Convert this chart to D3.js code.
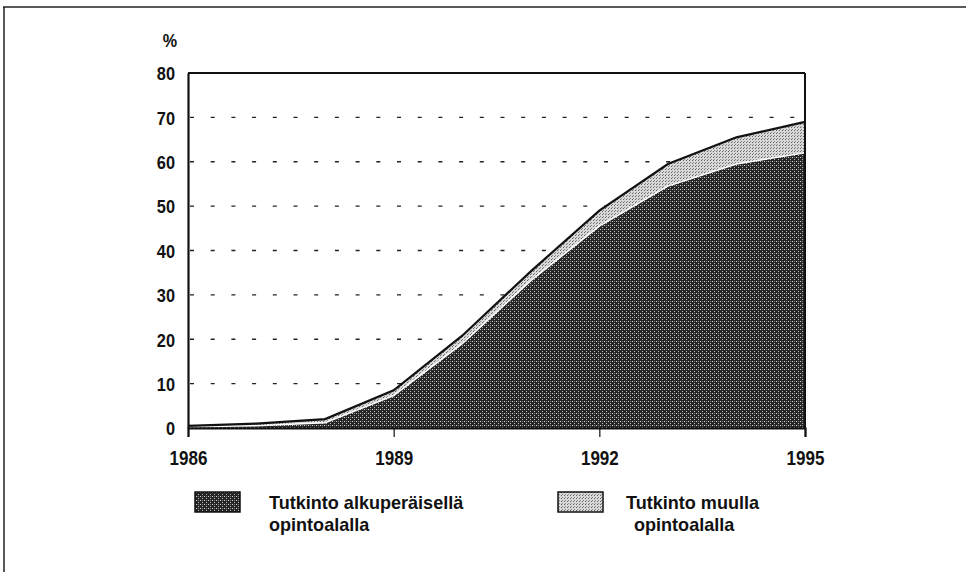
<!DOCTYPE html>
<html>
<head>
<meta charset="utf-8">
<script src="https://cdn.jsdelivr.net/npm/d3@7"></script>
<style>
  body { margin: 0; background: #fff; }
  svg text { font-family: "Liberation Sans", Arial, sans-serif; font-weight: bold; fill: #111; }
</style>
</head>
<body>
<div id="chart"></div>
<script>
// data (percent)
const years = [1986, 1987, 1988, 1989, 1990, 1991, 1992, 1993, 1994, 1995];
const original = [0.3, 0.5, 1.2, 7.3, 19.0, 33.2, 45.5, 54.5, 59.5, 62.0];
const total = [0.5, 1.0, 2.0, 8.5, 20.8, 35.3, 49.0, 59.5, 65.5, 69.0];
const yTicks = [0, 10, 20, 30, 40, 50, 60, 70, 80];
const xTicks = [1986, 1989, 1992, 1995];
const legendLabels = [["Tutkinto alkuperäisellä", "opintoalalla"], ["Tutkinto muulla", "opintoalalla"]];

const W = 966, H = 572;
const margin = {top: 73, right: 161, bottom: 144, left: 188};
const w = W - margin.left - margin.right;
const h = H - margin.top - margin.bottom;

// squeeze text horizontally to mimic the condensed typeface
function condense(sel, k) {
    sel.each(function () {
        let len = this.getComputedTextLength();
        d3.select(this).attr("textLength", len * k).attr("lengthAdjust", "spacingAndGlyphs");
    });
}

const svg = d3.select("#chart").append("svg")
    .attr("width", W)
    .attr("height", H);

// halftone-ish patterns
const defs = svg.append("defs");
let pd = defs.append("pattern").attr("id", "darkPat")
    .attr("patternUnits", "userSpaceOnUse").attr("width", 4).attr("height", 4);
pd.append("rect").attr("width", 4).attr("height", 4).attr("fill", "#262626");
pd.append("rect").attr("x", 0).attr("y", 0).attr("width", 1).attr("height", 1).attr("fill", "#d0d0d0");
pd.append("rect").attr("x", 2).attr("y", 2).attr("width", 1).attr("height", 1).attr("fill", "#b4b4b4");
pd.append("rect").attr("x", 2).attr("y", 0).attr("width", 1).attr("height", 1).attr("fill", "#7a7a7a");

let pl = defs.append("pattern").attr("id", "lightPat")
    .attr("patternUnits", "userSpaceOnUse").attr("width", 3).attr("height", 3);
pl.append("rect").attr("width", 3).attr("height", 3).attr("fill", "#d8d8d8");
pl.append("rect").attr("x", 0).attr("y", 0).attr("width", 1).attr("height", 1).attr("fill", "#666");
pl.append("rect").attr("x", 1).attr("y", 2).attr("width", 1).attr("height", 1).attr("fill", "#888");

// outer frame (top and left edges only)
svg.append("line").attr("x1", 3).attr("x2", W).attr("y1", 7).attr("y2", 7)
    .attr("stroke", "#222").attr("stroke-width", 1.5);
svg.append("line").attr("x1", 4).attr("x2", 4).attr("y1", 7).attr("y2", H)
    .attr("stroke", "#222").attr("stroke-width", 1.5);

const g = svg.append("g").attr("transform", `translate(${margin.left},${margin.top})`);

const x = d3.scaleLinear().domain([1986, 1995]).range([0, w]);
const y = d3.scaleLinear().domain([0, 80]).range([h, 0]);

// dashed gridlines
g.selectAll(".grid").data(yTicks.filter(d => d > 0 && d < 80)).enter()
    .append("line")
    .attr("class", "grid")
    .attr("x1", 2).attr("x2", w - 4)
    .attr("y1", d => y(d)).attr("y2", d => y(d))
    .attr("stroke", "#222").attr("stroke-width", 1.3)
    .attr("stroke-dasharray", "4,16.7");

const rows = years.map((yr, i) => ({year: yr, orig: original[i], total: total[i]}));

const areaTotal = d3.area().x(d => x(d.year)).y0(y(0)).y1(d => y(d.total));
const areaOrig = d3.area().x(d => x(d.year)).y0(y(0)).y1(d => y(d.orig));
const lineTotal = d3.line().x(d => x(d.year)).y(d => y(d.total));
const lineOrig = d3.line().x(d => x(d.year)).y(d => y(d.orig));

g.append("path").datum(rows).attr("d", areaTotal).attr("fill", "url(#lightPat)");
g.append("path").datum(rows).attr("d", areaOrig).attr("fill", "url(#darkPat)");
g.append("path").datum(rows).attr("d", lineOrig).attr("fill", "none")
    .attr("stroke", "#fff").attr("stroke-width", 1.5);
g.append("path").datum(rows).attr("d", lineTotal).attr("fill", "none")
    .attr("stroke", "#111").attr("stroke-width", 2.2);

// plot frame: top and right
g.append("line").attr("x1", 0).attr("x2", w).attr("y1", 0).attr("y2", 0)
    .attr("stroke", "#111").attr("stroke-width", 2);
g.append("line").attr("x1", w).attr("x2", w).attr("y1", 0).attr("y2", h)
    .attr("stroke", "#111").attr("stroke-width", 2);

// axes
const yAxis = g.append("g")
    .call(d3.axisLeft(y).tickValues(yTicks).tickSize(0).tickPadding(13));
yAxis.select(".domain").attr("stroke", "#111").attr("stroke-width", 2.2);
yAxis.selectAll("text").attr("font-size", 19).attr("dy", "0.36em");
condense(yAxis.selectAll("text"), 0.86);

const xAxis = g.append("g").attr("transform", `translate(0,${h})`)
    .call(d3.axisBottom(x).tickValues(xTicks).tickFormat(d3.format("d")).tickSize(9).tickPadding(13));
xAxis.select(".domain").attr("stroke", "#111").attr("stroke-width", 2.2);
xAxis.selectAll(".tick line").attr("stroke", "#111").attr("stroke-width", 1.2);
xAxis.selectAll("text").attr("font-size", 21);
condense(xAxis.selectAll("text"), 0.81);

const pct = g.append("text").attr("x", -18).attr("y", -26)
    .attr("text-anchor", "middle").attr("font-size", 19).text("%");
condense(pct, 0.85);

// legend
const legend = svg.append("g");
const legendX = [195, 558];
const textX = [269, 626];
const legendFill = ["url(#darkPat)", "url(#lightPat)"];
legendLabels.forEach((lines, i) => {
    legend.append("rect")
        .attr("x", legendX[i]).attr("y", 492).attr("width", 45).attr("height", 20)
        .attr("fill", legendFill[i]).attr("stroke", "#111").attr("stroke-width", 1.5);
    lines.forEach((s, j) => {
        let t = legend.append("text")
            .attr("x", textX[i] + (i === 1 && j === 1 ? 8 : 0))
            .attr("y", 509 + j * 22)
            .attr("font-size", 19)
            .text(s);
        condense(t, 0.95);
    });
});
</script>
</body>
</html>
